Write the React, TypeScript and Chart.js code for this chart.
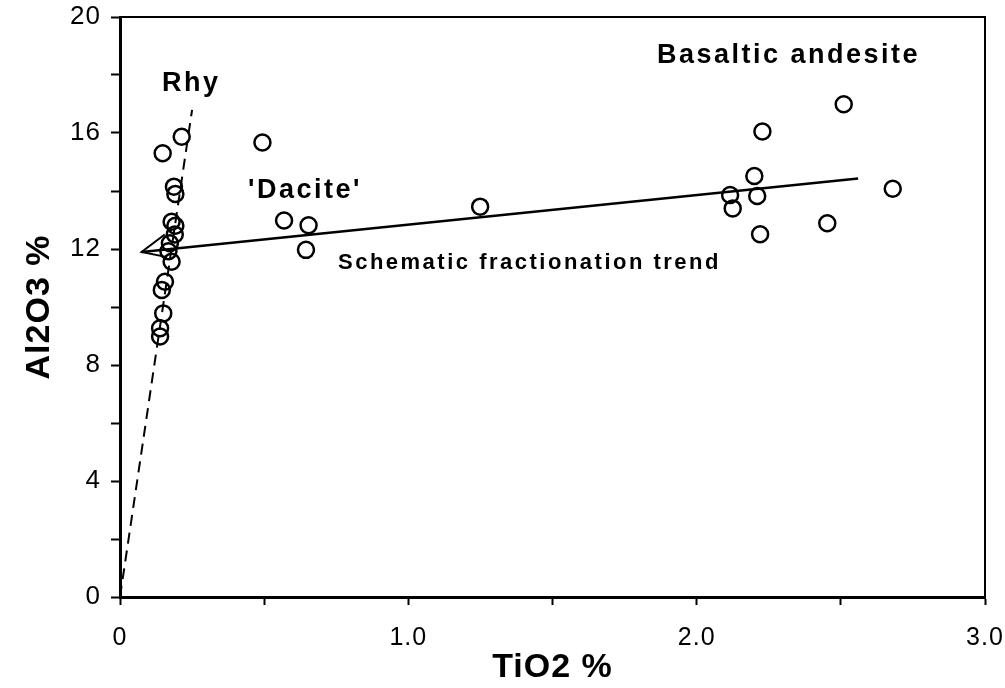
import { useEffect, useRef } from 'react';
import { Chart, registerables } from 'chart.js';

Chart.register(...registerables);

// Rhyolite samples (TiO2 %, Al2O3 %)
const rhyTiO2 = [0.214, 0.148, 0.187, 0.192, 0.179, 0.192, 0.19, 0.173, 0.168, 0.179, 0.156, 0.145, 0.15, 0.139, 0.139];
const rhyAl2O3 = [15.87, 15.3, 14.15, 13.9, 12.94, 12.8, 12.5, 12.2, 11.92, 11.56, 10.87, 10.59, 9.78, 9.27, 8.98];

// 'Dacite' samples
const daciteTiO2 = [0.494, 0.569, 0.654, 0.645, 1.249];
const daciteAl2O3 = [15.67, 12.98, 12.82, 11.97, 13.46];

// Basaltic andesite samples
const basaltTiO2 = [2.51, 2.228, 2.2, 2.116, 2.21, 2.125, 2.68, 2.453, 2.22];
const basaltAl2O3 = [16.99, 16.05, 14.52, 13.86, 13.83, 13.4, 14.08, 12.89, 12.51];

// Rhyolite trend (dashed), fractionation trend (solid) and its open arrow head
const rhyTrendTiO2 = [0, 0.25];
const rhyTrendAl2O3 = [0, 16.8];
const fracTrendTiO2 = [0.075, 2.56];
const fracTrendAl2O3 = [11.9, 14.43];
const arrowTiO2 = [0.155, 0.075, 0.163];
const arrowAl2O3 = [12.5, 11.9, 11.72];

// Axis tick labels
const xTickValues = [0, 1, 2, 3];
const xTickText = ['0', '1.0', '2.0', '3.0'];
const yTickValues = [0, 4, 8, 12, 16, 20];
const yTickText = ['0', '4', '8', '12', '16', '20'];

// Text labels placed in data units (left edge, baseline)
const noteText = ['Rhy', 'Basaltic andesite', "'Dacite'", 'Schematic fractionation trend'];
const noteTiO2 = [0.146, 1.862, 0.444, 0.756];
const noteAl2O3 = [17.45, 18.41, 13.76, 11.31];
const noteSize = [27, 27, 27, 22];

const FONT = '"Liberation Sans", Arial, Helvetica, sans-serif';

const pts = (xs: number[], ys: number[]) => xs.map((x, i) => ({ x, y: ys[i] }));

const circleStyle = {
  pointRadius: 8,
  pointHoverRadius: 8,
  pointBorderWidth: 2.5,
  borderColor: '#000',
  backgroundColor: 'rgba(0,0,0,0)',
  pointStyle: 'circle' as const,
  showLine: false,
};

const lineStyle = {
  showLine: true,
  pointRadius: 0,
  borderColor: '#000',
  borderWidth: 2.5,
  fill: false,
};

const frameAndNotes = {
  id: 'frameAndNotes',
  beforeDraw(chart: any) {
    chart.ctx.letterSpacing = '1px';
  },
  afterDatasetsDraw(chart: any) {
    const { ctx, chartArea, scales } = chart;
    const { left, top, right, bottom } = chartArea;
    ctx.save();
    ctx.strokeStyle = '#000';
    ctx.lineWidth = 2;
    ctx.beginPath();
    ctx.moveTo(left, top);
    ctx.lineTo(right, top);
    ctx.lineTo(right, bottom);
    ctx.stroke();

    ctx.fillStyle = '#000';
    ctx.textBaseline = 'alphabetic';
    ctx.textAlign = 'left';
    ctx.letterSpacing = '2.5px';
    noteText.forEach((t, i) => {
      ctx.font = `bold ${noteSize[i]}px ${FONT}`;
      ctx.fillText(t, scales.x.getPixelForValue(noteTiO2[i]), scales.y.getPixelForValue(noteAl2O3[i]));
    });
    ctx.restore();
  },
};

export default function App() {
  const canvasRef = useRef<HTMLCanvasElement | null>(null);

  useEffect(() => {
    const canvas = canvasRef.current;
    if (!canvas) return;

    const tickLabel = (values: number[], texts: string[]) => (v: any) => {
      const idx = values.findIndex((t) => Math.abs(t - Number(v)) < 1e-9);
      return idx >= 0 ? texts[idx] : '';
    };

    const chart = new Chart(canvas, {
      type: 'scatter',
      data: {
        datasets: [
          { ...lineStyle, data: pts(rhyTrendTiO2, rhyTrendAl2O3), borderWidth: 2, borderDash: [11, 7] } as any,
          { ...lineStyle, data: pts(fracTrendTiO2, fracTrendAl2O3) } as any,
          { ...lineStyle, data: pts(arrowTiO2, arrowAl2O3), borderWidth: 2 } as any,
          { ...circleStyle, data: pts(rhyTiO2, rhyAl2O3) } as any,
          { ...circleStyle, data: pts(daciteTiO2, daciteAl2O3) } as any,
          { ...circleStyle, data: pts(basaltTiO2, basaltAl2O3) } as any,
        ],
      },
      options: {
        animation: false,
        responsive: false,
        maintainAspectRatio: false,
        events: [],
        layout: { padding: { top: 17, right: 20, left: 0, bottom: 0 } },
        plugins: {
          legend: { display: false },
          tooltip: { enabled: false },
        },
        scales: {
          x: {
            type: 'linear',
            min: 0,
            max: 3,
            ticks: {
              stepSize: 0.5,
              autoSkip: false,
              maxRotation: 0,
              color: '#000',
              padding: 18,
              font: { family: FONT, size: 25 },
              callback: tickLabel(xTickValues, xTickText),
            },
            grid: { drawOnChartArea: false, tickLength: 8, tickColor: '#000', tickWidth: 2 },
            border: { color: '#000', width: 3 },
            title: {
              display: true,
              text: 'TiO2 %',
              color: '#000',
              font: { family: FONT, size: 34, weight: 'bold' },
              padding: { top: 0, bottom: 0 },
            },
            afterFit(scale: any) {
              scale.height = 91;
              scale.paddingLeft = 0;
              scale.paddingRight = 0;
            },
          },
          y: {
            type: 'linear',
            min: 0,
            max: 20,
            ticks: {
              stepSize: 2,
              autoSkip: false,
              color: '#000',
              padding: 10,
              font: { family: FONT, size: 26 },
              callback: tickLabel(yTickValues, yTickText),
            },
            grid: { drawOnChartArea: false, tickLength: 9, tickColor: '#000', tickWidth: 2 },
            border: { color: '#000', width: 3 },
            title: {
              display: true,
              text: 'Al2O3 %',
              color: '#000',
              font: { family: FONT, size: 34, weight: 'bold' },
              padding: { top: 19, bottom: 0 },
            },
            afterFit(scale: any) {
              scale.width = 120;
              scale.paddingTop = 0;
              scale.paddingBottom = 0;
            },
          },
        },
      } as any,
      plugins: [frameAndNotes],
    });

    return () => chart.destroy();
  }, []);

  return (
    <div style={{ position: 'fixed', left: 0, top: 0, width: 1005, height: 688, background: '#fff' }}>
      <canvas ref={canvasRef} width={1005} height={688} />
    </div>
  );
}
